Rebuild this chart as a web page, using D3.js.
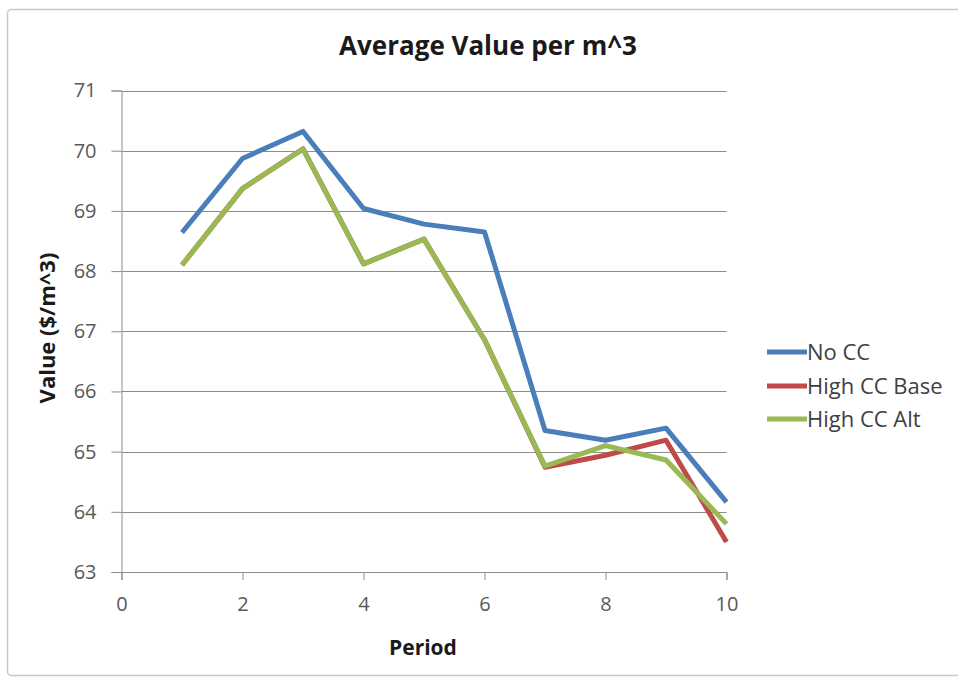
<!DOCTYPE html>
<html>
<head>
<meta charset="utf-8">
<script src="https://cdn.jsdelivr.net/npm/d3@7"></script>
<style>
  html, body { margin: 0; padding: 0; background: #fff; }
  svg { display: block; }
</style>
</head>
<body>
<svg id="chart" width="958" height="679"></svg>
<script>
const periods = [1, 2, 3, 4, 5, 6, 7, 8, 9, 10];
const noCC        = [68.64, 69.87, 70.32, 69.04, 68.78, 68.65, 65.35, 65.19, 65.39, 64.16];
const highCCBase  = [68.10, 69.37, 70.03, 68.12, 68.53, 66.86, 64.74, 64.94, 65.19, 63.50];
const highCCAlt   = [68.10, 69.37, 70.03, 68.12, 68.53, 66.86, 64.76, 65.10, 64.86, 63.80];
const seriesNames = ["No CC", "High CC Base", "High CC Alt"];
const seriesColors = ["#4A7EBB", "#BE4B48", "#98B954"];
const xTicks = [0, 2, 4, 6, 8, 10];
const yTicks = [63, 64, 65, 66, 67, 68, 69, 70, 71];

const seriesValues = [noCC, highCCBase, highCCAlt];
const drawOrder = [0, 1, 2];

const svg = d3.select("#chart");
const font = "'Open Sans', sans-serif";

// chart border
svg.append("rect")
  .attr("x", 7.5).attr("y", 9.5)
  .attr("width", 970).attr("height", 666)
  .attr("rx", 4)
  .attr("fill", "#fff")
  .attr("stroke", "#c8c8c8")
  .attr("stroke-width", 1.5);

const x = d3.scaleLinear().domain([0, 10]).range([121.5, 726.5]);
const y = d3.scaleLinear().domain([63, 71]).range([572, 90.5]);

// gridlines
svg.append("g")
  .selectAll("line")
  .data(yTicks.filter(t => t !== 63))
  .join("line")
  .attr("x1", x(0)).attr("x2", x(10))
  .attr("y1", d => Math.round(y(d)) + 0.5)
  .attr("y2", d => Math.round(y(d)) + 0.5)
  .attr("stroke", "#8c8c8c")
  .attr("stroke-width", 1);

// y axis
const yAxis = svg.append("g")
  .attr("transform", `translate(${x(0)},0)`)
  .call(d3.axisLeft(y).tickValues(yTicks).tickSize(10).tickPadding(15).tickFormat(d3.format("d")));
yAxis.select(".domain").attr("stroke", "#8c8c8c");
yAxis.selectAll(".tick line").attr("stroke", "#8c8c8c");
yAxis.selectAll(".tick text")
  .attr("fill", "#595959")
  .style("font-family", font)
  .style("font-size", "20px");

// x axis
const xAxis = svg.append("g")
  .attr("transform", `translate(0,${y(63)})`)
  .call(d3.axisBottom(x).tickValues(xTicks).tickSize(8).tickPadding(17).tickFormat(d3.format("d")));
xAxis.select(".domain").attr("stroke", "#8c8c8c");
xAxis.selectAll(".tick line").attr("stroke", "#8c8c8c");
xAxis.selectAll(".tick text")
  .attr("fill", "#595959")
  .style("font-family", font)
  .style("font-size", "20px");

// lines
const line = d3.line()
  .x((d, i) => x(periods[i]))
  .y(d => y(d));

svg.append("g")
  .selectAll("path")
  .data(drawOrder)
  .join("path")
  .attr("d", i => line(seriesValues[i]))
  .attr("fill", "none")
  .attr("stroke", i => seriesColors[i])
  .attr("stroke-width", 5)
  .attr("stroke-linejoin", "round")
  .attr("stroke-linecap", "butt");

// title
svg.append("text")
  .attr("x", 488).attr("y", 55)
  .attr("text-anchor", "middle")
  .attr("fill", "#1a1a1a")
  .style("font-family", font)
  .style("font-weight", "bold")
  .style("font-size", "26px")
  .text("Average Value per m^3");

// axis titles
svg.append("text")
  .attr("x", 423).attr("y", 655)
  .attr("text-anchor", "middle")
  .attr("fill", "#1a1a1a")
  .style("font-family", font)
  .style("font-weight", "bold")
  .style("font-size", "21px")
  .text("Period");

svg.append("text")
  .attr("transform", "translate(55,328) rotate(-90)")
  .attr("text-anchor", "middle")
  .attr("fill", "#1a1a1a")
  .style("font-family", font)
  .style("font-weight", "bold")
  .style("font-size", "22px")
  .text("Value ($/m^3)");

// legend
const legend = svg.append("g");
const legendY = [352, 386, 419];
seriesNames.forEach((name, i) => {
  legend.append("line")
    .attr("x1", 767).attr("x2", 807)
    .attr("y1", legendY[i]).attr("y2", legendY[i])
    .attr("stroke", seriesColors[i])
    .attr("stroke-width", 5);
  legend.append("text")
    .attr("x", 807).attr("y", legendY[i] + 8)
    .attr("fill", "#404040")
    .style("font-family", font)
    .style("font-size", "22px")
    .text(name);
});
</script>
</body>
</html>
